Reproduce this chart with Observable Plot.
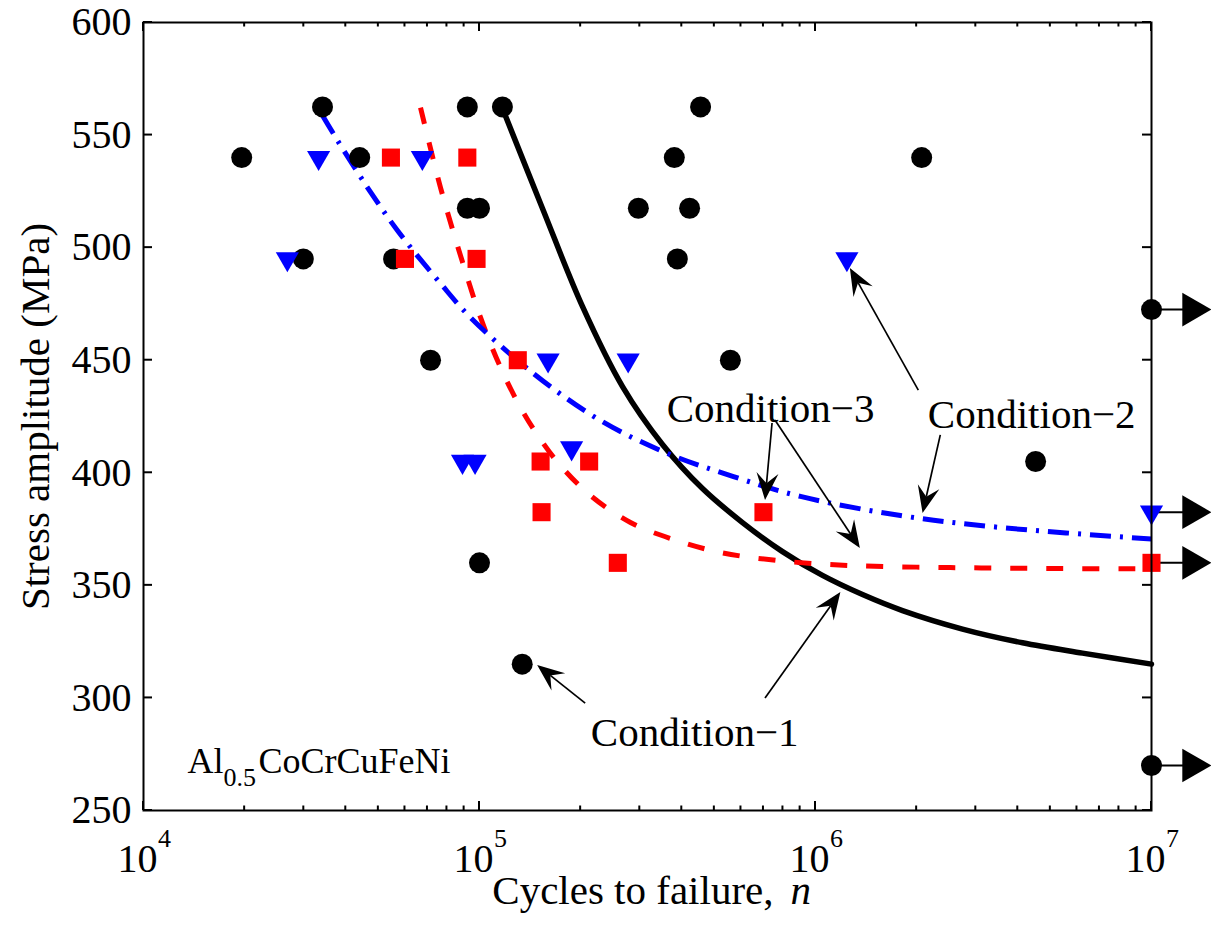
<!DOCTYPE html>
<html><head><meta charset="utf-8">
<script src="https://cdn.jsdelivr.net/npm/d3@7"></script>
<script src="https://cdn.jsdelivr.net/npm/@observablehq/plot@0.6"></script>
<style>body{margin:0;background:#fff;} svg{display:block}</style>
</head><body><div id="chart"></div>
<script>
// ---------- data ----------
// Condition-1 (black circles)
const cond1N = [1.96e4, 3.41e4, 4.4e4, 2.99e4, 5.55e4, 7.15e4, 9.2e4, 9.2e4, 1.0e5, 1.0e5, 1.17e5, 1.34e5,
                3.8e5, 2.97e5, 4.22e5, 3.88e5, 4.55e5, 5.58e5, 2.07e6, 4.52e6, 1e7, 1e7];
const cond1S = [540, 562.5, 540, 495, 495, 450, 562.5, 517.5, 517.5, 360, 562.5, 315,
                540, 517.5, 517.5, 495, 562.5, 450, 540, 405, 472.5, 270];
// Condition-2 (blue down triangles)
const cond2N = [2.68e4, 3.32e4, 6.76e4, 8.9e4, 9.7e4, 1.6e5, 2.77e5, 1.88e5, 1.24e6, 1e7];
const cond2S = [495, 540, 540, 405, 405, 450, 450, 411, 495, 382.5];
// Condition-3 (red squares)
const cond3N = [5.45e4, 9.2e4, 6.0e4, 9.8e4, 1.3e5, 1.52e5, 2.12e5, 1.53e5, 2.58e5, 7.0e5, 1e7];
const cond3S = [540, 540, 495, 495, 450, 405, 405, 382.5, 360, 382.5, 360];

// fitted curves
const fit1N = [1.171e5, 1.540e5, 2.025e5, 2.665e5, 3.505e5, 4.610e5, 6.064e5, 7.976e5, 1.049e6, 1.380e6, 1.815e6, 2.738e6, 4.131e6, 6.232e6, 1e7];
const fit1S = [561.8, 517.4, 473.9, 438.3, 412.6, 393.0, 377.9, 365.0, 354.4, 345.9, 338.8, 330.6, 324.5, 319.9, 315.0];
const fit3N = [6.675e4, 7.655e4, 8.778e4, 1.007e5, 1.155e5, 1.3245e5, 1.519e5, 1.742e5, 2.140e5, 2.814e5, 3.702e5, 5.214e5, 7.867e5, 1.2714e6, 2.522e6, 5.005e6, 1e7];
const fit3S = [562.2, 526.7, 496.5, 469.0, 446.8, 429.0, 414.8, 403.2, 389.9, 377.9, 370.8, 364.6, 360.9, 358.8, 357.9, 357.5, 357.3];
const fit2N = [3.41e4, 3.78e4, 4.642e4, 5.70e4, 7.655e4, 9.40e4, 1.448e5, 2.292e5, 3.627e5, 5.70e5, 9.02e5, 1.791e6, 3.554e6, 1e7];
const fit2S = [558.7, 547.6, 526.7, 507.6, 484.1, 469.0, 444.1, 423.2, 408.6, 398.3, 389.5, 381.0, 375.7, 370.6];

// run-outs (arrows to the right of 10^7)
const runoutS = [472.5, 382.5, 360, 270];
const runoutEndN = 1.32e7;

// ticks
const yTicks = [250, 300, 350, 400, 450, 500, 550, 600];
const xMajorTicks = [1e4, 1e5, 1e6, 1e7];
const xTickBase = ["10", "10", "10", "10"];
const xTickExp = ["4", "5", "6", "7"];
const xMinorTicks = [];
for (const k of [4, 5, 6]) for (let m = 2; m <= 9; m++) xMinorTicks.push(m * 10 ** k);

// annotation labels and arrows
const labelText = ["Condition\u22121", "Condition\u22123", "Condition\u22122"];
const labelN = [4.37e5, 7.35e5, 4.4e6];
const labelS = [284.6, 428.6, 425.9];
const arrowFromN = [2.07e5, 7.1e5, 7.45e5, 7.6e5, 2.03e6, 2.36e6];
const arrowFromS = [297.5, 299.7, 421.9, 423.2, 436.5, 416.6];
const arrowToN   = [1.49e5, 1.19e6, 7.1e5, 1.36e6, 1.27e6, 2.09e6];
const arrowToS   = [314.4, 346.8, 387.7, 366.4, 490.7, 381.9];

// ---------- tables ----------
const zip = (N, S) => N.map((n, i) => ({n, s: S[i]}));
const c1 = zip(cond1N, cond1S), c2 = zip(cond2N, cond2S), c3 = zip(cond3N, cond3S);
const f1 = zip(fit1N, fit1S), f2 = zip(fit2N, fit2S), f3 = zip(fit3N, fit3S);
const runouts = runoutS.map(s => ({s}));
const labels = labelText.map((t, i) => ({t, n: labelN[i], s: labelS[i]}));
const arrows = arrowFromN.map((n, i) => ({x1: n, y1: arrowFromS[i], x2: arrowToN[i], y2: arrowToS[i]}));
const xLabels = xMajorTicks.map((v, i) => ({v, base: xTickBase[i], exp: xTickExp[i]}));

const FONT = "Liberation Serif";

// custom mark: inward ticks on all four sides (positions from Plot's scales)
function inwardTicks(index, scales, values, dimensions) {
  const {width, height, marginLeft, marginRight, marginTop, marginBottom} = dimensions;
  const L = marginLeft, R = width - marginRight, T = marginTop, B = height - marginBottom;
  const g = d3.create("svg:g").attr("stroke", "black").attr("stroke-width", 2);
  const seg = (x1, y1, x2, y2) => g.append("line").attr("x1", x1).attr("y1", y1).attr("x2", x2).attr("y2", y2);
  for (const t of xMajorTicks) { const x = scales.x(t); seg(x, B, x, B - 9); seg(x, T, x, T + 9); }
  for (const t of xMinorTicks) { const x = scales.x(t); seg(x, B, x, B - 4.5); seg(x, T, x, T + 4.5); }
  for (const t of yTicks) { const y = scales.y(t); seg(L, y, L + 9, y); seg(R, y, R - 9, y); }
  return g.node();
}

// custom mark: annotation arrows with filled barbed heads
function annotationArrows(index, scales) {
  const g = d3.create("svg:g");
  const HL = 27, HW = 11, notch = 0.62;
  for (const a of arrows) {
    const x1 = scales.x(a.x1), y1 = scales.y(a.y1), x2 = scales.x(a.x2), y2 = scales.y(a.y2);
    const dx = x2 - x1, dy = y2 - y1, len = Math.hypot(dx, dy);
    const ux = dx / len, uy = dy / len, nx = -uy, ny = ux;
    const bx = x2 - ux * HL, by = y2 - uy * HL;
    const mx = x2 - ux * HL * notch, my = y2 - uy * HL * notch;
    g.append("line").attr("x1", x1).attr("y1", y1).attr("x2", mx).attr("y2", my)
      .attr("stroke", "black").attr("stroke-width", 1.7);
    g.append("path")
      .attr("d", `M${x2},${y2}L${bx + nx * HW},${by + ny * HW}L${mx},${my}L${bx - nx * HW},${by - ny * HW}Z`)
      .attr("fill", "black");
  }
  return g.node();
}

const chart = Plot.plot({
  width: 1211, height: 926,
  marginLeft: 143, marginRight: 60, marginTop: 22, marginBottom: 116,
  x: {type: "log", domain: [1e4, 1e7], axis: null},
  y: {domain: [250, 600]},
  style: {fontFamily: FONT, background: "white", color: "black"},
  marks: [
    // y tick labels
    Plot.axisY({anchor: "left", ticks: yTicks, tickSize: 0, tickPadding: 12, fontSize: 40, label: null, tickFormat: d => String(d)}),
    // x tick labels 10^k
    Plot.text(xLabels, {x: "v", frameAnchor: "bottom", text: "base", fontSize: 40, dx: -6, dy: 61}),
    Plot.text(xLabels, {x: "v", frameAnchor: "bottom", text: "exp", fontSize: 26, dx: 21, dy: 36}),
    // axis titles
    Plot.text(["Stress amplitude (MPa)"], {frameAnchor: "left", text: d => d, rotate: -90, textAnchor: "middle", fontSize: 41, dx: -108}),
    Plot.text(["Cycles to failure,"], {frameAnchor: "bottom", text: d => d, fontSize: 41, textAnchor: "end", dx: 126, dy: 93}),
    Plot.text(["n"], {frameAnchor: "bottom", text: d => d, fontSize: 41, fontStyle: "italic", textAnchor: "start", dx: 143, dy: 93}),
    // alloy label
    Plot.text(["Al"], {frameAnchor: "bottom-left", text: d => d, fontSize: 36, textAnchor: "start", dx: 44, dy: -38}),
    Plot.text(["0.5"], {frameAnchor: "bottom-left", text: d => d, fontSize: 26, textAnchor: "start", dx: 80, dy: -25}),
    Plot.text(["CoCrCuFeNi"], {frameAnchor: "bottom-left", text: d => d, fontSize: 36, textAnchor: "start", dx: 115, dy: -38}),
    // fitted curves
    Plot.line(f1, {x: "n", y: "s", stroke: "black", strokeWidth: 5.5, curve: "catmull-rom"}),
    Plot.line(f3, {x: "n", y: "s", stroke: "#ff0000", strokeWidth: 5, curve: "catmull-rom", strokeDasharray: "17,19", strokeLinecap: "butt"}),
    Plot.line(f2, {x: "n", y: "s", stroke: "#0000ff", strokeWidth: 5, curve: "catmull-rom", strokeDasharray: "21,9,3,9", strokeLinecap: "butt"}),
    // run-out arrows
    Plot.link(runouts, {x1: () => 1e7, x2: () => runoutEndN, y1: "s", y2: "s", stroke: "black", strokeWidth: 2}),
    Plot.dot(runouts, {x: () => runoutEndN, y: "s", symbol: "triangle", rotate: 90, r: 12.5, fill: "black"}),
    // data points
    Plot.dot(c1, {x: "n", y: "s", r: 10.5, fill: "black"}),
    Plot.dot(c3, {x: "n", y: "s", symbol: "square", r: 10.2, fill: "#ff0000"}),
    Plot.dot(c2, {x: "n", y: "s", symbol: "triangle", rotate: 180, r: 8.6, fill: "#0000ff"}),
    // annotations
    annotationArrows,
    Plot.text(labels, {x: "n", y: "s", text: "t", fontSize: 41}),
    inwardTicks,
    Plot.frame({stroke: "black", strokeWidth: 2})
  ]
});
document.getElementById("chart").appendChild(chart);
</script>
</body></html>
